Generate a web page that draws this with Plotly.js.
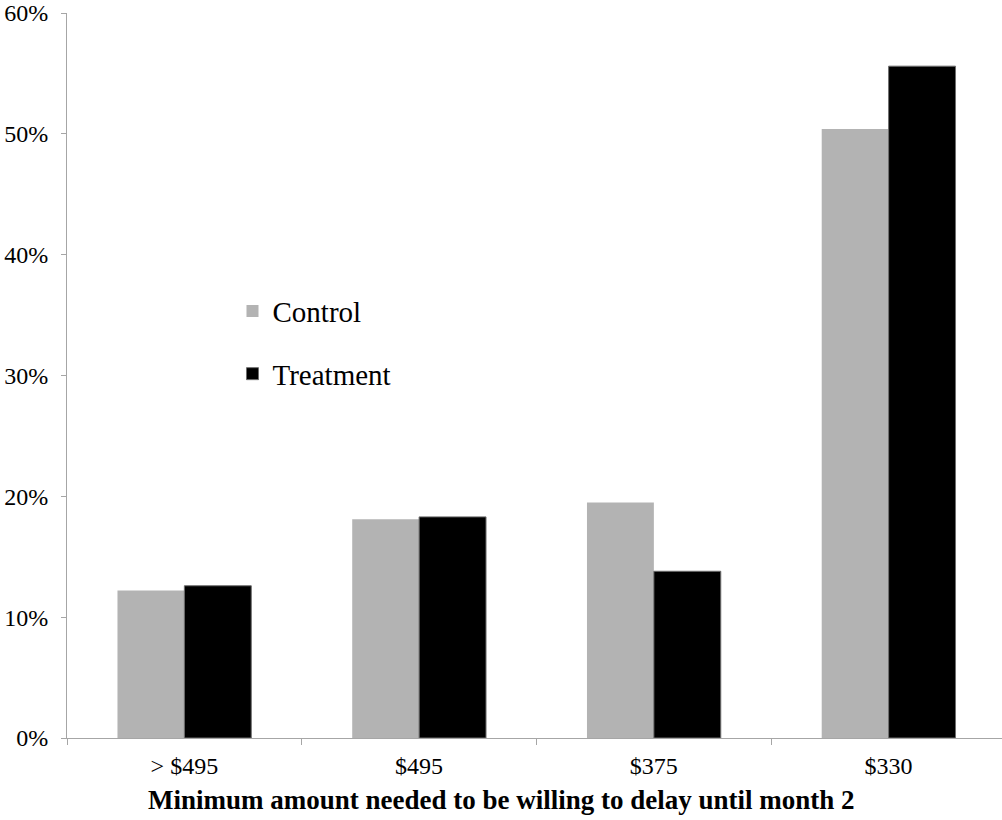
<!DOCTYPE html>
<html>
<head>
<meta charset="utf-8">
<script src="https://cdn.plot.ly/plotly-3.0.1.min.js"></script>
<style>
  html, body { margin: 0; padding: 0; background: #fff; overflow: hidden; }
  #chart { width: 1002px; height: 820px; }
</style>
</head>
<body>
<div id="chart"></div>
<script>
// Share of participants by the minimum amount they need to delay until month 2
const categories = ['> $495', '$495', '$375', '$330'];
const controlValues = [12.2, 18.1, 19.5, 50.4];
const treatmentValues = [12.6, 18.3, 13.8, 55.6];
const yTickValues = [0, 10, 20, 30, 40, 50, 60];
const yTickLabels = ['0%', '10%', '20%', '30%', '40%', '50%', '60%'];
const xTitle = 'Minimum amount needed to be willing to delay until month 2';

const serif = "'Liberation Serif', 'Times New Roman', serif";
const axisGrey = '#a6a6a6';

const traces = [
  {
    type: 'bar',
    name: 'Control',
    x: categories,
    y: controlValues,
    marker: { color: '#b3b3b3', line: { width: 0 } },
    legendgroup: 'c',
    hoverinfo: 'skip'
  },
  {
    type: 'bar',
    name: 'Treatment',
    x: categories,
    y: treatmentValues,
    marker: { color: '#000000', line: { color: '#6e6e6e', width: 1 } },
    legendgroup: 't',
    hoverinfo: 'skip'
  }
];

const layout = {
  width: 1002,
  height: 820,
  margin: { l: 67, r: 0, t: 13, b: 82 },
  paper_bgcolor: '#ffffff',
  plot_bgcolor: '#ffffff',
  barmode: 'group',
  bargap: 0.43,
  bargroupgap: 0,
  font: { family: serif, color: '#000000', size: 24 },
  showlegend: true,
  legend: {
    x: 0.177,
    y: 0.624,
    xanchor: 'left',
    yanchor: 'top',
    bgcolor: 'rgba(0,0,0,0)',
    font: { family: serif, size: 29, color: '#000' },
    traceorder: 'grouped',
    tracegroupgap: 22,
    itemwidth: 30
  },
  // x-axis title, centred on the page rather than on the plot area
  annotations: [
    {
      text: '<b>' + xTitle + '</b>',
      xref: 'paper',
      yref: 'paper',
      x: 0.465,
      y: -0.086,
      xanchor: 'center',
      yanchor: 'middle',
      showarrow: false,
      font: { family: serif, size: 27, color: '#000' }
    }
  ],
  xaxis: {
    type: 'category',
    range: [-0.5, 3.483],
    showline: true,
    linecolor: axisGrey,
    linewidth: 1,
    ticks: 'outside',
    tickson: 'boundaries',
    ticklen: 6,
    tickcolor: axisGrey,
    ticklabelstandoff: 6,
    tickfont: { family: serif, size: 24, color: '#000' },
    showgrid: false,
    zeroline: false
  },
  yaxis: {
    range: [0, 60],
    tickvals: yTickValues,
    ticktext: yTickLabels,
    showline: true,
    linecolor: axisGrey,
    linewidth: 1,
    ticks: 'outside',
    ticklen: 5,
    tickcolor: axisGrey,
    ticklabelstandoff: 8,
    tickfont: { family: serif, size: 24, color: '#000' },
    showgrid: false,
    zeroline: false
  }
};

Plotly.newPlot('chart', traces, layout, { displayModeBar: false, staticPlot: true });
</script>
</body>
</html>
